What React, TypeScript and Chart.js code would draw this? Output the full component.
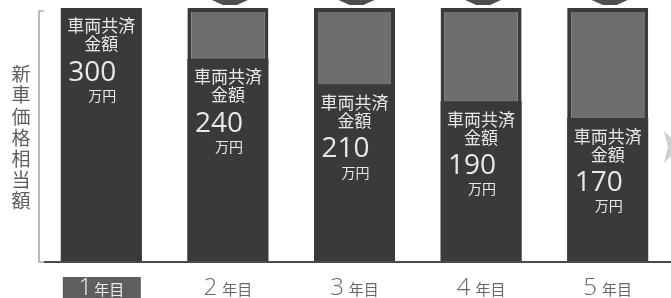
import React, { useEffect, useRef } from "react";
import { Chart, registerables } from "chart.js";

Chart.register(...registerables);

const yearNumbers = ["1", "2", "3", "4", "5"];
const yearSuffix = "年目";
const coverageValues = [300, 240, 210, 190, 170];
const newCarValues = [300, 300, 300, 300, 300];
const yTitle = "新車価格相当額";
const barTitleLines = ["車両共済", "金額"];
const unitLabel = "万円";

const DARK = "#3a3a3a";
const GREY = "#6e6e6e";
const JP = '"Noto Sans CJK JP", "Noto Sans", sans-serif';
const NUM = '"Open Sans", "Noto Sans", sans-serif';

const decorPlugin = {
  id: "decor",
  afterDatasetsDraw(chart: any) {
    const ctx = chart.ctx;
    const x = chart.scales.x;
    const y = chart.scales.y;
    const meta = chart.getDatasetMeta(0);
    ctx.save();

    // arrows at top (bars 2..5)
    ctx.fillStyle = "#4e4e4e";
    for (let i = 1; i < yearNumbers.length; i++) {
      const cx = x.getPixelForValue(i) + 2;
      ctx.beginPath();
      ctx.moveTo(cx - 18, 0);
      ctx.lineTo(cx + 18, 0);
      ctx.lineTo(cx + 7, 5);
      ctx.lineTo(cx - 7, 5);
      ctx.closePath();
      ctx.fill();
    }

    // texts in bars
    ctx.fillStyle = "#e8e8e8";
    ctx.textAlign = "center";
    ctx.textBaseline = "middle";
    coverageValues.forEach((v, i) => {
      const bar = meta.data[i];
      const cx = bar.x;
      const top = y.getPixelForValue(v);
      ctx.font = `400 17px ${JP}`;
      ctx.fillText(barTitleLines[0], cx, top + 18);
      ctx.fillText(barTitleLines[1], cx, top + 36);
      ctx.font = `400 28px ${NUM}`;
      ctx.fillText(String(v), cx - 9, top + 65);
      ctx.font = `400 14px ${JP}`;
      ctx.fillText(unitLabel, cx + 1, top + 88);
    });

    // baseline
    const base = y.getPixelForValue(0);
    ctx.strokeStyle = "#4a4a4a";
    ctx.lineWidth = 2;
    ctx.beginPath();
    ctx.moveTo(44, base);
    ctx.lineTo(chart.width, base);
    ctx.stroke();

    // bracket
    ctx.strokeStyle = "#8a8a8a";
    ctx.lineWidth = 1.2;
    ctx.beginPath();
    ctx.moveTo(44, 11);
    ctx.lineTo(39, 11);
    ctx.lineTo(39, base);
    ctx.lineTo(44, base);
    ctx.stroke();

    // y title (vertical)
    ctx.fillStyle = "#5e5e5e";
    ctx.font = `400 19px ${JP}`;
    ctx.textAlign = "center";
    ctx.textBaseline = "middle";
    Array.from(yTitle).forEach((ch, k) => {
      ctx.fillText(ch, 21, 74 + k * 21.2);
    });

    // x labels
    yearNumbers.forEach((n, i) => {
      const bar = meta.data[i];
      const cx = bar.x;
      const gap = i === 0 ? 2 : 5;
      ctx.font = `300 24px ${NUM}`;
      const wn = ctx.measureText(n).width;
      ctx.font = `400 15px ${JP}`;
      const ws = ctx.measureText(yearSuffix).width;
      const total = wn + gap + ws;
      const left = cx - total / 2;
      if (i === 0) {
        ctx.fillStyle = "#5e5e5e";
        ctx.fillRect(bar.x - bar.width / 2 + 2, 277, bar.width - 3, 22);
        ctx.fillStyle = "#f0f0f0";
      } else {
        ctx.fillStyle = "#666666";
      }
      ctx.textAlign = "left";
      ctx.textBaseline = "alphabetic";
      ctx.font = `300 24px ${NUM}`;
      ctx.fillText(n, left, 295);
      ctx.font = `400 15px ${JP}`;
      ctx.fillText(yearSuffix, left + wn + gap, 295);
    });

    // faint shape at right edge
    ctx.fillStyle = "#cfcfcf";
    ctx.beginPath();
    ctx.moveTo(664, 131);
    ctx.lineTo(671, 138);
    ctx.lineTo(671, 156);
    ctx.lineTo(664, 163);
    ctx.lineTo(668, 147);
    ctx.closePath();
    ctx.fill();

    ctx.restore();
  },
};

export default function App() {
  const ref = useRef<HTMLCanvasElement>(null);
  useEffect(() => {
    document.body.style.margin = "0";
    const chart = new Chart(ref.current as HTMLCanvasElement, {
      type: "bar",
      data: {
        labels: yearNumbers.map((n) => n + yearSuffix),
        datasets: [
          {
            label: "車両共済金額",
            data: coverageValues,
            backgroundColor: DARK,
            borderWidth: 0,
            grouped: false,
            categoryPercentage: 1,
            barPercentage: 0.64,
          } as any,
          {
            label: "新車価格相当額",
            data: newCarValues,
            backgroundColor: GREY,
            borderColor: DARK,
            borderWidth: 4,
            grouped: false,
            categoryPercentage: 1,
            barPercentage: 0.64,
          } as any,
        ],
      },
      options: {
        responsive: false,
        animation: false,
        devicePixelRatio: 1,
        layout: { padding: { top: 8, bottom: 36, left: 38, right: 0 } },
        plugins: { legend: { display: false }, tooltip: { enabled: false } },
        scales: {
          x: { display: false },
          y: { display: false, min: 0, max: 300 },
        },
      },
      plugins: [decorPlugin],
    });
    return () => chart.destroy();
  }, []);
  return (
    <div style={{ position: "absolute", left: 0, top: 0, width: 671, height: 298, background: "#ffffff" }}>
      <canvas ref={ref} width={671} height={298} />
    </div>
  );
}
